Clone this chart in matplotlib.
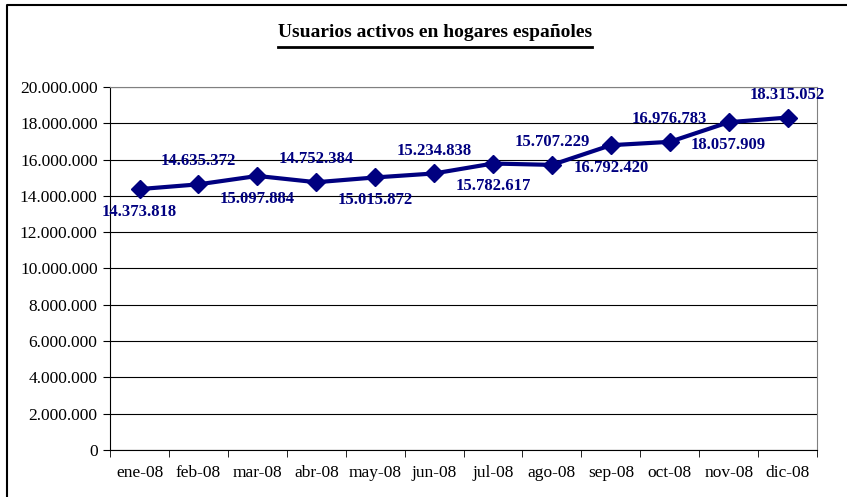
import numpy as np
import matplotlib.pyplot as plt
from matplotlib.ticker import FuncFormatter, FixedLocator, NullFormatter

meses = ['ene-08', 'feb-08', 'mar-08', 'abr-08', 'may-08', 'jun-08',
         'jul-08', 'ago-08', 'sep-08', 'oct-08', 'nov-08', 'dic-08']
usuarios = [14373818, 14635372, 15097884, 14752384, 15015872, 15234838,
            15782617, 15707229, 16792420, 16976783, 18057909, 18315052]

def puntos(v):
    return '{:,.0f}'.format(v).replace(',', '.')

plt.rcParams['font.family'] = ['Liberation Serif', 'DejaVu Serif']

fig = plt.figure(figsize=(8.47, 4.97), dpi=100)
ax = fig.add_axes([0.130, 0.0946, 0.8346, 0.7304])

x = np.arange(len(meses))
ax.plot(x, usuarios, color='#000080', lw=3, marker='D', ms=9, zorder=3)

# etiquetas alternas arriba / abajo
for i, v in enumerate(usuarios):
    dy = -16.5 if i % 2 == 0 else 16.5
    ax.annotate(puntos(v), (i, v), xytext=(0, dy), textcoords='offset points',
                ha='center', va='center', fontsize=12, fontweight='bold', color='#000080')

ax.set_xlim(-0.5, len(meses) - 0.5)
ax.set_ylim(0, 20000000)
ax.set_yticks(np.arange(0, 20000001, 2000000))
ax.yaxis.set_major_formatter(FuncFormatter(lambda v, p: puntos(v)))
ax.grid(axis='y', color='black', lw=0.8)
ax.set_axisbelow(True)

ax.set_xticks(x)
ax.set_xticklabels(meses)
ax.tick_params(axis='x', which='major', length=0, labelsize=12.5, pad=11)
ax.xaxis.set_minor_locator(FixedLocator(np.arange(-0.5, len(meses), 1)))
ax.xaxis.set_minor_formatter(NullFormatter())
ax.tick_params(axis='x', which='minor', length=5, direction='out', color='black')
ax.tick_params(axis='y', length=5, direction='out', labelsize=12.5, pad=4)

ax.spines['left'].set_color('black')
ax.spines['bottom'].set_color('black')
ax.spines['right'].set_color('gray')
ax.spines['top'].set_color('gray')

titulo = fig.text(0.5136, 0.934, 'Usuarios activos en hogares españoles', ha='center', va='center',
                  fontsize=14, fontweight='bold')
fig.canvas.draw()
bb = titulo.get_window_extent().transformed(fig.transFigure.inverted())
fig.add_artist(plt.Line2D([bb.x0, bb.x1], [0.906, 0.906], color='black', lw=2))

# marco exterior
fig.add_artist(plt.Line2D([0.008, 0.008, 1.0], [0.0, 0.99, 0.99], color='black', lw=1.5))

fig.savefig('out.png', dpi=100)
